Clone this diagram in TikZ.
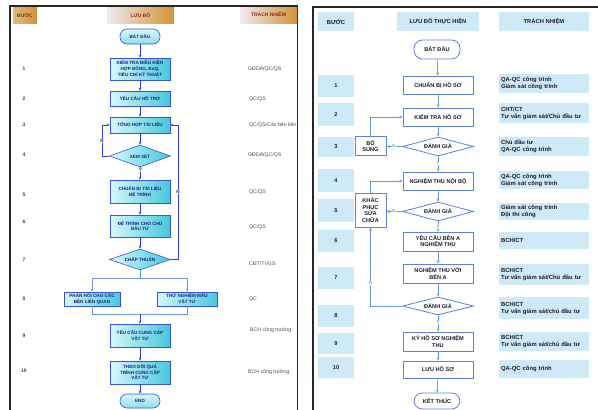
\documentclass[tikz,border=0pt]{standalone}
\usepackage{fontspec}
\setmainfont{Liberation Sans}
\usetikzlibrary{shapes.geometric,arrows.meta}

% palette
\definecolor{lcyanA}{RGB}{215,248,252}
\definecolor{lcyanB}{RGB}{70,200,220}
\definecolor{lborder}{RGB}{55,85,215}
\definecolor{ltext}{RGB}{25,35,130}
\definecolor{larrow}{RGB}{55,60,225}
\definecolor{lbranch}{RGB}{110,150,225}
\definecolor{hdrOrange}{RGB}{212,146,52}
\definecolor{hdrTan}{RGB}{222,188,130}
\definecolor{hdrGrey}{RGB}{236,236,240}
\definecolor{hdrText}{RGB}{150,35,30}
\definecolor{rfill}{RGB}{207,234,247}
\definecolor{rborder}{RGB}{95,130,215}
\definecolor{rarrow}{RGB}{105,155,215}
\definecolor{rtext}{RGB}{28,28,45}

\tikzset{
  % left chart
  lnode/.style={draw=lborder, line width=0.6pt, left color=lcyanA, right color=lcyanB,
    font=\fontsize{4.6}{5.7}\selectfont\bfseries, text=ltext, align=center, inner sep=0.5pt},
  lbox/.style={lnode, rectangle, minimum width=60pt},
  ldia/.style={lnode, diamond, aspect=3, inner sep=0pt, minimum width=61pt},
  lterm/.style={lnode, rectangle, rounded corners=7pt, minimum width=40pt,
    top color=lcyanA, bottom color=lcyanB!60},
  larr/.style={draw=larrow, line width=0.55pt, -{Stealth[length=3pt,width=2.6pt]}},
  lline/.style={draw=lbranch, line width=0.55pt},
  lbarr/.style={draw=lbranch, line width=0.55pt, -{Stealth[length=3pt,width=2.6pt]}},
  lyn/.style={font=\fontsize{4.4}{5}\selectfont\bfseries, text=ltext, fill=white, inner sep=0.4pt},
  lnum/.style={font=\fontsize{5}{6}\selectfont\bfseries, text=black!75},
  lresp/.style={font=\fontsize{5.2}{6}\selectfont, text=black!70, anchor=west, inner sep=0pt},
  lhdr/.style={font=\fontsize{5}{6}\selectfont\bfseries, text=hdrText, minimum height=16pt,
    inner sep=0pt, left color=hdrGrey, right color=hdrOrange},
  % right chart
  rnode/.style={draw=rborder, line width=0.8pt, fill=white,
    font=\fontsize{5.6}{6.8}\selectfont\bfseries, text=rtext, align=center, inner sep=0.5pt},
  rbox/.style={rnode, rectangle, minimum width=70pt},
  rdia/.style={rnode, diamond, aspect=3.7, inner sep=0pt, minimum width=71pt},
  rterm/.style={rnode, rectangle, rounded corners=8.5pt, minimum width=46pt},
  rarr/.style={draw=rarrow, line width=0.7pt, -{Stealth[length=3.2pt,width=2.8pt]}},
  ryn/.style={font=\fontsize{4.2}{5}\selectfont\bfseries, text=rarrow, fill=white, inner sep=0.4pt},
  rhdr/.style={fill=rfill, font=\fontsize{5.8}{7}\selectfont\bfseries, text=rtext,
    minimum height=19pt, inner sep=0pt},
  rstep/.style={fill=rfill, font=\fontsize{5.6}{7}\selectfont\bfseries, text=rtext,
    minimum width=36pt, inner sep=0pt},
  rresp/.style={fill=rfill, font=\fontsize{5.9}{7}\selectfont\bfseries, text=rtext,
    minimum width=90pt, text width=86pt, align=left, inner sep=2pt},
}

\begin{document}
\begin{tikzpicture}[x=1pt, y=-1pt]
\useasboundingbox (0,0) rectangle (598,410);
\fill[white] (0,0) rectangle (598,410);

% ---------------- frames ----------------
\draw[line width=1.6pt, black!85] (10,414) -- (10,6) -- (297.5,6) -- (297.5,414);
\draw[line width=1.4pt, black!85] (313,414) -- (313,7) -- (600,7);

% ================= LEFT CHART =================
% column headers
\node[lhdr, minimum width=24pt, left color=hdrTan, right color=hdrOrange] (lhA) at (25,15) {BƯỚC};
\node[lhdr, minimum width=67pt] (lhB) at (140.5,15) {LƯU ĐỒ};
\node[lhdr, minimum width=57pt] (lhC) at (268.5,15) {TRÁCH NHIỆM};

% flow nodes
\node[lterm, minimum height=15pt] (lstart) at (140,36.5) {BẮT ĐẦU};
\node[lbox, minimum height=22pt] (l1) at (140,69) {KIỂM TRA ĐIỀU KIỆN\\HỢP ĐỒNG, BoQ,\\TIÊU CHÍ KỸ THUẬT};
\node[lbox, minimum height=15pt] (l2) at (140,98.5) {YÊU CẦU HỖ TRỢ};
\node[lbox, minimum height=16pt] (l3) at (140,125) {TỔNG HỢP TÀI LIỆU};
\node[ldia, minimum height=22pt] (l4) at (140,156) {XEM XÉT};
\node[lbox, minimum height=23pt] (l5) at (140,191.5) {CHUẨN BỊ TÀI LIỆU\\ĐỆ TRÌNH};
\node[lbox, minimum height=22pt] (l6) at (140,226) {ĐỆ TRÌNH CHO CHỦ\\ĐẦU TƯ};
\node[ldia, minimum height=21pt] (l7) at (140,259.5) {CHẤP THUẬN};
\node[lbox, minimum width=56pt, minimum height=14pt] (l8a) at (92,299) {PHẢN HỒI CHO CÁC\\BÊN LIÊN QUAN};
\node[lbox, minimum width=60pt, minimum height=14pt] (l8b) at (187,299) {THỬ NGHIỆM MẪU\\VẬT TƯ};
\node[lbox, minimum height=23pt] (l9) at (140,335.5) {YÊU CẦU CUNG CẤP\\VẬT TƯ};
\node[lbox, minimum height=23pt] (l10) at (140,372.5) {THEO DÕI QUÁ\\TRÌNH CUNG CẤP\\VẬT TƯ};
\node[lterm, minimum height=14pt] (lend) at (140,401) {END};

% main path
\draw[larr] (lstart) -- (l1);
\draw[larr] (l1) -- (l2);
\draw[larr] (l2) -- (l3);
\draw[larr] (l3) -- (l4);
\draw[larr] (l4) -- (l5);
\draw[larr] (l5) -- (l6);
\draw[larr] (l6) -- (l7);

% loops back to TỔNG HỢP TÀI LIỆU
\coordinate (lloopL) at (102,0);
\coordinate (lloopR) at (178,0);
\draw[larr] (l4.west) -- (l4.west -| lloopL) |- (l3.west);
\draw[larr] (l7.east) -- (l7.east -| lloopR) |- (l3.east);
\node[lyn] (lyN1) at (102,141) {N};
\node[lyn] (lyN2) at (178,192) {N};
\node[lyn] (lyY) at (140.5,170) {Y};

% split into the two step-8 actions
\coordinate (lsplit) at (140,278);
\draw[lline] (l7.south) -- (lsplit);
\draw[lline] (l8a.north |- lsplit) -- (l8b.north |- lsplit);
\draw[lbarr] (l8a.north |- lsplit) -- (l8a.north);
\draw[lbarr] (l8b.north |- lsplit) -- (l8b.north);

% merge back
\coordinate (lmerge) at (140,314);
\draw[lline] (l8a.south) -- (l8a.south |- lmerge) -- (l8b.south |- lmerge) -- (l8b.south);
\draw[larr] (lmerge) -- (l9);
\draw[larr] (l9) -- (l10);
\draw[larr] (l10) -- (lend);

% step numbers
\node[lnum] (ln1) at (24,69) {1};
\node[lnum] (ln2) at (24,99) {2};
\node[lnum] (ln3) at (24,125) {3};
\node[lnum] (ln4) at (24,155) {4};
\node[lnum] (ln5) at (24,195) {5};
\node[lnum] (ln6) at (24,222) {6};
\node[lnum] (ln7) at (24,260) {7};
\node[lnum] (ln8) at (24,299) {8};
\node[lnum] (ln9) at (24,336) {9};
\node[lnum] (ln10) at (24,371) {10};

% responsibilities
\node[lresp] (lr1) at (248,69) {GĐDA/QC/QS};
\node[lresp] (lr2) at (249,99) {QC/QS};
\begin{scope}
  \clip (240,110) rectangle (296.5,140);
  \node[lresp] (lr3) at (249,125) {QC/QS/Các bên liên quan};
\end{scope}
\node[lresp] (lr4) at (248,155) {GĐDA/QC/QS};
\node[lresp] (lr5) at (249,192) {QC/QS};
\node[lresp] (lr6) at (249,227) {QC/QS};
\node[lresp] (lr7) at (249,264) {CĐT/TVGS};
\node[lresp] (lr8) at (249,299) {QC};
\node[lresp] (lr9) at (250,330) {BCH công trường};
\node[lresp] (lr10) at (248,372) {BCH công trường};

% ================= RIGHT CHART =================
\node[rhdr, minimum width=36pt] (rhA) at (336,21.5) {BƯỚC};
\node[rhdr, minimum width=82pt] (rhB) at (438,21.5) {LƯU ĐỒ THỰC HIỆN};
\node[rhdr, minimum width=90pt] (rhC) at (544,21.5) {TRÁCH NHIỆM};

% step boxes
\node[rstep, minimum height=22pt] (rn1) at (336,86) {1};
\node[rstep, minimum height=23pt] (rn2) at (336,114.5) {2};
\node[rstep, minimum height=20pt] (rn3) at (336,147) {3};
\node[rstep, minimum height=23pt] (rn4) at (336,180.5) {4};
\node[rstep, minimum height=23pt] (rn5) at (336,210.5) {5};
\node[rstep, minimum height=22pt] (rn6) at (336,241) {6};
\node[rstep, minimum height=22pt] (rn7) at (336,278) {7};
\node[rstep, minimum height=22pt] (rn8) at (336,316) {8};
\node[rstep, minimum height=21pt] (rn9) at (336,343.5) {9};
\node[rstep, minimum height=21pt] (rn10) at (336,367.5) {10};

% responsibility boxes
\node[rresp, minimum height=19pt] (rr1) at (544,83.5) {QA-QC công trình\\Giám sát công trình};
\node[rresp, minimum height=20pt] (rr2) at (544,113) {CHT/CT\\Tư vấn giám sát/Chủ đầu tư};
\node[rresp, minimum height=19pt] (rr3) at (544,146.5) {Chủ đầu tư\\QA-QC công trình};
\node[rresp, minimum height=18pt] (rr4) at (544,180) {QA-QC công trình\\Giám sát công trình};
\node[rresp, minimum height=15pt] (rr5) at (544,211.5) {Giám sát công trình\\Đội thi công};
\node[rresp, minimum height=17pt] (rr6) at (544,240.5) {BCH/CT};
\node[rresp, minimum height=21pt] (rr7) at (544,274.5) {BCH/CT\\Tư vấn giám sát/Chủ đầu tư};
\node[rresp, minimum height=22pt] (rr8) at (544,308) {BCH/CT\\Tư vấn giám sát/chủ đầu tư};
\node[rresp, minimum height=19pt] (rr9) at (544,341.5) {BCH/CT\\Tư vấn giám sát/chủ đầu tư};
\node[rresp, minimum height=18pt] (rr10) at (544,369) {QA-QC công trình};

% flow nodes
\node[rterm, minimum height=19pt] (rstart) at (437,49.5) {BẮT ĐẦU};
\node[rbox, minimum height=18pt] (r1) at (438,85) {CHUẨN BỊ HỒ SƠ};
\node[rbox, minimum height=18pt] (r2) at (438,117) {KIỂM TRA HỒ SƠ};
\node[rdia, minimum height=19pt] (r3) at (438,146.5) {ĐÁNH GIÁ};
\node[rbox, minimum width=31pt, minimum height=19pt] (rbs) at (370.5,146) {BỔ\\SUNG};
\node[rbox, minimum height=18pt] (r4) at (438,181) {NGHIỆM THU NỘI BỘ};
\node[rdia, minimum height=19pt] (r5) at (438,211.5) {ĐÁNH GIÁ};
\node[rbox, minimum width=31pt, minimum height=34pt] (rkp) at (370.5,210) {KHẮC\\PHỤC\\SỬA\\CHỮA};
\node[rbox, minimum height=19pt] (r6) at (438,241.5) {YÊU CẦU BÊN A\\NGHIỆM THU};
\node[rbox, minimum height=19pt] (r7) at (438,273.5) {NGHIỆM THU VỚI\\BÊN A};
\node[rdia, minimum height=18pt] (r8) at (438,306) {ĐÁNH GIÁ};
\node[rbox, minimum height=19pt] (r9) at (438,341.5) {KÝ HỒ SƠ NGHIỆM\\THU};
\node[rbox, minimum height=17pt] (r10) at (438,369.5) {LƯU HỒ SƠ};
\node[rterm, minimum height=16pt] (rend) at (437,401) {KẾT THÚC};

% main path
\draw[rarr] (rstart) -- (r1);
\draw[rarr] (r1) -- (r2);
\draw[rarr] (r2) -- (r3);
\draw[rarr] (r3) -- (r4);
\draw[rarr] (r4) -- (r5);
\draw[rarr] (r5) -- (r6);
\draw[rarr] (r6) -- (r7);
\draw[rarr] (r7) -- (r8);
\draw[rarr] (r8) -- (r9);
\draw[rarr] (r9) -- (r10);
\draw[rarr] (r10) -- (rend);

% rejection branches
\draw[rarr] (r3.west) -- (rbs.east |- r3.west);
\draw[rarr] (rbs.north) |- (r2.west);
\draw[rarr] (r5.west) -- (rkp.east |- r5.west);
\draw[rarr] (rkp.north) |- (r4.west);
\draw[rarr] (r8.west) -| (rkp.south);

% Y / N labels
\node[ryn] (ryN1) at (394,146.5) {N};
\node[ryn] (ryN2) at (394,211.5) {N};
\node[ryn] (ryN3) at (370.5,283) {N};
\node[ryn] (ryY1) at (438,163.5) {Y};
\node[ryn] (ryY2) at (438,227) {Y};
\node[ryn] (ryY3) at (438,322.5) {Y};
\end{tikzpicture}
\end{document}
